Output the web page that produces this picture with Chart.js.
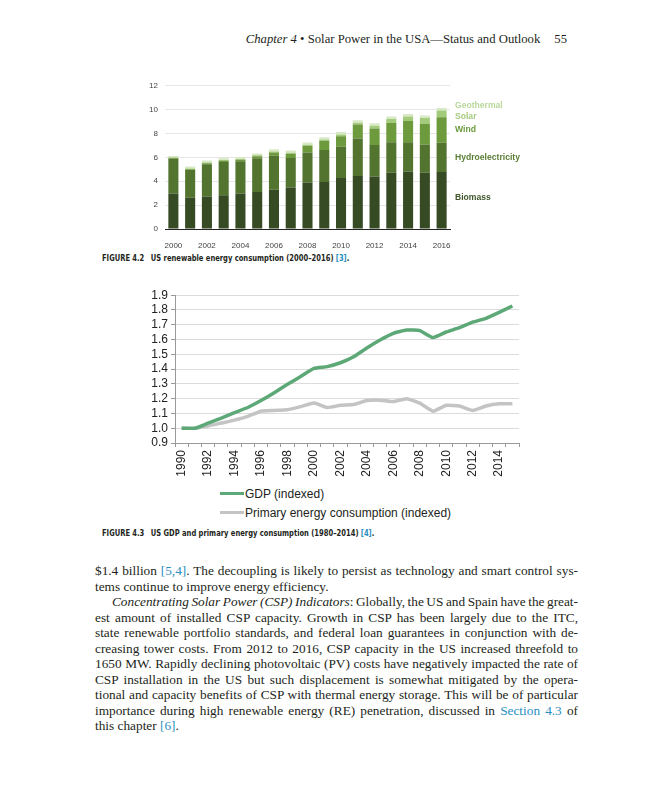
<!DOCTYPE html>
<html>
<head>
<meta charset="utf-8">
<script src="https://cdn.jsdelivr.net/npm/chart.js@4.4.1/dist/chart.umd.min.js"></script>
<style>
  body { margin: 0; background: #fff; width: 647px; height: 800px; position: relative; overflow: hidden; }
  .abs { position: absolute; }
  #header { left: 0; width: 567px; top: 32px; text-align: right; font-family: "Liberation Serif", serif; font-size: 12.7px; color: #231f20; white-space: nowrap; }
  #header i { font-style: italic; }
  #header .pg { margin-left: 14px; }
  .caption { left: 102px; font-family: "Liberation Sans Narrow", "DejaVu Sans Condensed", sans-serif; font-weight: bold; font-size: 9px; color: #231f20; white-space: nowrap; transform: scaleX(0.835); transform-origin: 0 0; }
  .caption .num { margin-right: 5px; }
  .ref { color: #2a8fc0; }
  #body { left: 95px; top: 563px; width: 483px; font-family: "Liberation Serif", serif; font-size: 13.3px; line-height: 15.5px; color: #231f20; }
  #body div { white-space: nowrap; }
  #body div span.line { display: inline-block; }
  #body div.ind { padding-left: 17px; }
  #legend2 { left: 220px; top: 486px; font-family: "Liberation Sans", Arial, sans-serif; font-size: 12px; color: #231f20; }
  #legend2 .item { height: 19px; line-height: 17px; white-space: nowrap; }
  #legend2 .swatch { display: inline-block; width: 24px; height: 3px; vertical-align: middle; margin-right: 1px; position: relative; top: -1px; }
</style>
</head>
<body>

<div id="header" class="abs"><i>Chapter 4</i> • Solar Power in the USA—Status and Outlook<span class="pg">55</span></div>

<div class="abs" style="left:130px; top:74px; width:400px; height:176px;"><canvas id="chartMy1"></canvas></div>
<div class="caption abs" style="top:253px;"><span class="num">FIGURE 4.2</span> US renewable energy consumption (2000–2016) <span class="ref">[3]</span>.</div>

<div class="abs" style="left:130px; top:285px; width:400px; height:200px;"><canvas id="chartMy2"></canvas></div>
<div id="legend2" class="abs"></div>
<div class="caption abs" style="top:528px;"><span class="num">FIGURE 4.3</span> US GDP and primary energy consumption (1980–2014) <span class="ref">[4]</span>.</div>

<div id="body" class="abs">
  <div class="just"><span class="line">$1.4 billion <span class="ref">[5,4]</span>. The decoupling is likely to persist as technology and smart control sys-</span></div>
  <div><span class="line">tems continue to improve energy efficiency.</span></div>
  <div class="just ind"><span class="line"><i>Concentrating Solar Power (CSP) Indicators</i>: Globally, the US and Spain have the great-</span></div>
  <div class="just"><span class="line">est amount of installed CSP capacity. Growth in CSP has been largely due to the ITC,</span></div>
  <div class="just"><span class="line">state renewable portfolio standards, and federal loan guarantees in conjunction with de-</span></div>
  <div class="just"><span class="line">creasing tower costs. From 2012 to 2016, CSP capacity in the US increased threefold to</span></div>
  <div class="just"><span class="line">1650 MW. Rapidly declining photovoltaic (PV) costs have negatively impacted the rate of</span></div>
  <div class="just"><span class="line">CSP installation in the US but such displacement is somewhat mitigated by the opera-</span></div>
  <div class="just"><span class="line">tional and capacity benefits of CSP with thermal energy storage. This will be of particular</span></div>
  <div class="just"><span class="line">importance during high renewable energy (RE) penetration, discussed in <span class="ref">Section 4.3</span> of</span></div>
  <div><span class="line">this chapter <span class="ref">[6]</span>.</span></div>
</div>

<script>
// figure 4.2 - renewable consumption (quadrillion Btu)
var years1 = ['2000','2001','2002','2003','2004','2005','2006','2007','2008','2009','2010','2011','2012','2013','2014','2015','2016'];
var biomass = [2.97,2.61,2.72,2.83,2.97,3.11,3.28,3.47,3.89,3.94,4.28,4.44,4.39,4.72,4.81,4.72,4.78];
var hydro = [2.92,2.33,2.70,2.78,2.70,2.81,2.86,2.47,2.53,2.67,2.61,3.14,2.64,2.56,2.47,2.36,2.44];
var wind = [0.05,0.07,0.10,0.12,0.14,0.18,0.28,0.37,0.55,0.78,0.89,1.17,1.39,1.61,1.78,1.75,2.14];
var solar = [0.06,0.06,0.06,0.06,0.06,0.07,0.08,0.08,0.09,0.10,0.13,0.16,0.23,0.32,0.36,0.48,0.58];
var geothermal = [0.11,0.16,0.16,0.16,0.16,0.16,0.18,0.19,0.19,0.20,0.21,0.21,0.21,0.21,0.21,0.21,0.21];
var yTicks1 = [0,2,4,6,8,10,12];
// where the side labels sit on the value axis
var sideLabelAt = [2.6, 6.0, 8.3, 9.45, 10.3];

// figure 4.3 - indexed GDP and energy
var years2 = ['1990','1991','1992','1993','1994','1995','1996','1997','1998','1999','2000','2001','2002','2003','2004','2005','2006','2007','2008','2009','2010','2011','2012','2013','2014','2015'];
var gdp = [1.0,1.0,1.034,1.068,1.106,1.14,1.187,1.24,1.297,1.35,1.405,1.417,1.443,1.484,1.543,1.597,1.642,1.664,1.66,1.613,1.651,1.68,1.718,1.743,1.784,1.827];
var energy = [1.0,1.0,1.015,1.035,1.055,1.08,1.115,1.12,1.125,1.146,1.17,1.14,1.155,1.16,1.187,1.19,1.18,1.2,1.17,1.115,1.155,1.15,1.12,1.15,1.165,1.165];

Chart.defaults.font.family = '"Liberation Sans", Arial, sans-serif';
Chart.defaults.animation = false;

var sideLabels = {
     id: 'sideLabels',
     afterDraw: function (chart) {
          var ctx = chart.ctx;
          var y = chart.scales.y;
          ctx.save();
          ctx.font = 'bold 8.6px "Liberation Sans", Arial, sans-serif';
          ctx.textBaseline = 'middle';
          ctx.textAlign = 'left';
          chart.data.datasets.forEach(function (ds, i) {
               ctx.fillStyle = ds.labelColor;
               ctx.fillText(ds.label, chart.chartArea.right + 5, y.getPixelForValue(sideLabelAt[i]));
          });
          ctx.restore();
     }
};

var config1 = {
     type: 'bar',
     data: {
          labels: years1,
          datasets: [
               { label: 'Biomass', data: biomass, backgroundColor: '#364a24', labelColor: '#3e5429' },
               { label: 'Hydroelectricity', data: hydro, backgroundColor: '#53742f', labelColor: '#5a7e34' },
               { label: 'Wind', data: wind, backgroundColor: '#6e9a3e', labelColor: '#6a9a3a' },
               { label: 'Solar', data: solar, backgroundColor: '#a4ca7c', labelColor: '#a6ca80' },
               { label: 'Geothermal', data: geothermal, backgroundColor: '#d8e9c6', labelColor: '#b8d89c' }
          ]
     },
     options: {
          responsive: true,
          maintainAspectRatio: false,
          layout: { padding: { top: 2.5, right: 80, left: 0, bottom: 0 } },
          plugins: { legend: { display: false }, tooltip: { enabled: false } },
          datasets: { bar: { categoryPercentage: 0.6, barPercentage: 1.0 } },
          scales: {
               x: {
                    stacked: true,
                    grid: { display: false },
                    border: { color: '#222', width: 1 },
                    ticks: {
                         autoSkip: false, maxRotation: 0, minRotation: 0, padding: 4,
                         color: '#444', font: { size: 8 },
                         callback: function (v, i) { return i % 2 === 0 ? years1[i] : ''; }
                    },
                    afterFit: function (s) { s.height = 21; }
               },
               y: {
                    stacked: true,
                    min: 0, max: 12,
                    afterBuildTicks: function (s) { s.ticks = yTicks1.map(function (v) { return { value: v }; }); },
                    grid: { color: '#e6e6e6', drawTicks: false },
                    border: { display: false },
                    ticks: { color: '#444', font: { size: 8 }, padding: 7 },
                    afterFit: function (s) { s.width = 35; }
               }
          }
     },
     plugins: [sideLabels]
};

var config2 = {
     type: 'line',
     data: {
          labels: years2,
          datasets: [
               { label: 'GDP (indexed)', data: gdp, borderColor: '#5ca877', borderWidth: 3.5, pointRadius: 0, tension: 0.15 },
               { label: 'Primary energy consumption (indexed)', data: energy, borderColor: '#c4c4c4', borderWidth: 3.5, pointRadius: 0, tension: 0.15 }
          ]
     },
     options: {
          responsive: true,
          maintainAspectRatio: false,
          layout: { padding: { top: 10, right: 10, left: 0, bottom: 0 } },
          plugins: { legend: { display: false }, tooltip: { enabled: false } },
          scales: {
               x: {
                    offset: true,
                    grid: { offset: true, drawOnChartArea: false, drawTicks: true, tickLength: 4, tickColor: '#999' },
                    border: { color: '#999', width: 1 },
                    ticks: {
                         autoSkip: false, maxRotation: 90, minRotation: 90, padding: 3,
                         color: '#222', font: { size: 12 },
                         callback: function (v, i) { return i % 2 === 0 ? years2[i] : ''; }
                    },
                    afterFit: function (s) { s.height = 42; }
               },
               y: {
                    min: 0.9, max: 1.9,
                    ticks: { stepSize: 0.1, autoSkip: false, color: '#222', font: { size: 12 }, padding: 3,
                         callback: function (v) { return Number(v).toFixed(1); } },
                    grid: { color: '#dcdcdc', tickLength: 4, tickColor: '#999' },
                    border: { color: '#999', width: 1 },
                    afterFit: function (s) { s.width = 45; }
               }
          }
     }
};

// stretch word gaps so each full line ends at the right margin
var justifyLines = function () {
     var lines = document.querySelectorAll('#body div.just');
     lines.forEach(function (div) {
          var span = div.querySelector('span.line');
          var avail = div.clientWidth - (div.classList.contains('ind') ? 17 : 0);
          var gaps = (span.textContent.match(/ /g) || []).length;
          var extra = avail - span.getBoundingClientRect().width;
          if (gaps > 0) span.style.wordSpacing = (extra / gaps) + 'px';
     });
};

window.onload = function() {
     var ctx1 = document.getElementById("chartMy1").getContext("2d");
     window.chart1 = new Chart(ctx1, config1);

     var ctx2 = document.getElementById("chartMy2").getContext("2d");
     window.chart2 = new Chart(ctx2, config2);

     // legend as stacked html rows, like the original
     var html = '';
     window.chart2.data.datasets.forEach(function (ds) {
          html += '<div class="item"><span class="swatch" style="background:' + ds.borderColor + '"></span>' + ds.label + '</div>';
     });
     document.getElementById('legend2').innerHTML = html;

     justifyLines();
};
</script>
</body>
</html>
